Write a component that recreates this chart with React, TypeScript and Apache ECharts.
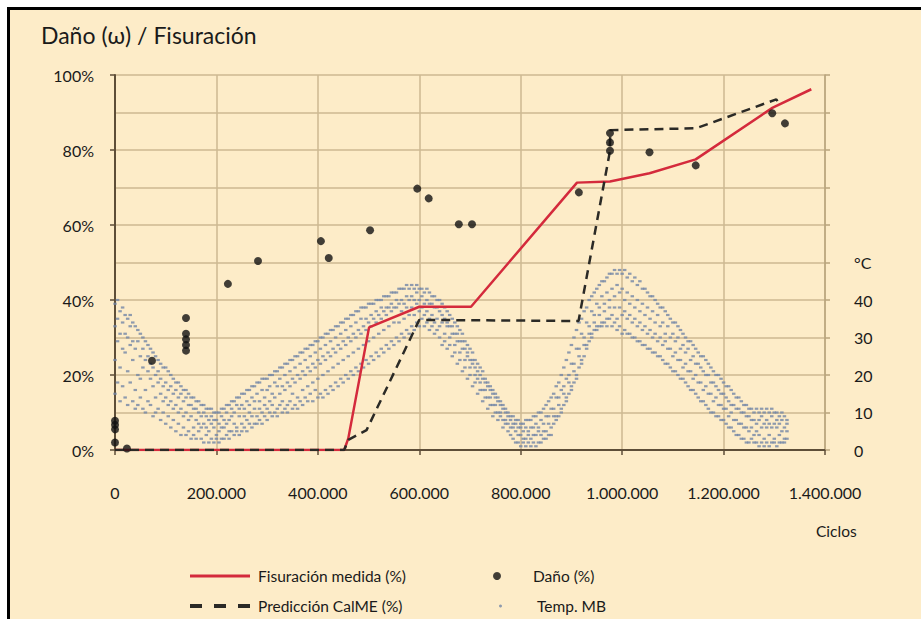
import React, { useEffect, useRef } from "react";
import * as echarts from "echarts";

// Fisuración medida (%) — [ciclos, %]
const fisuracion: number[][] = [
  [0, 0], [452000, 0], [460000, 3.1], [501000, 32.7], [600000, 38.2], [702000, 38.2],
  [911000, 71.3], [976000, 71.6], [1054000, 73.8], [1145000, 77.5], [1297000, 91.3], [1373000, 96.2],
];

// Predicción CalME (%) — [ciclos, %]
const prediccion: number[][] = [
  [0, 0], [452000, 0], [460000, 2.7], [496000, 5.3], [600000, 34.7], [914000, 34.4],
  [975000, 79], [977000, 85.3], [1146000, 85.8], [1304000, 93.5], [1310000, 92.3],
];

// Daño (%) — [ciclos, %]
const dano: number[][] = [
  [0, 7.8], [0, 6.7], [0, 5.5], [0, 2.0], [23600, 0.4], [73000, 23.8],
  [140000, 35.2], [140000, 31], [140000, 29.5], [140000, 28], [140000, 26.5],
  [222600, 44.3], [282000, 50.4], [406000, 55.7], [421500, 51.2], [503000, 58.6],
  [596000, 69.7], [618500, 67.1], [678000, 60.2], [704000, 60.2], [914600, 68.7],
  [976000, 84.5], [976000, 82], [976000, 79.8], [1054000, 79.4], [1145000, 75.9],
  [1296000, 89.8], [1321000, 87.1],
];

// Temp. MB (°C) — rows: [miles de ciclos, t1, t2, t3, t4]
const tempRows: number[][] = [
  [0,39,33,24,15],[5,40,29,35,18],[10,37,22,31,13],[15,38,34,17,27],[20,36,26,14,31],
  [25,35,30,21,12],[30,36,18,28,33],[35,34,24,13,29],[40,33,27,16,11],[45,32,20,29,12],
  [50,31,25,14,19],[55,30,22,11,27],[60,29,16,24,10],[65,28,21,13,25],[70,27,12,19,23],
  [75,26,17,9,22],[80,25,20,14,10],[85,24,11,18,21],[90,23,15,8,19],[95,22,10,17,13],
  [100,22,14,7,18],[105,21,9,16,12],[110,20,13,6,17],[115,19,8,15,11],[120,18,12,5,16],
  [125,18,7,14,10],[130,17,11,4,15],[135,16,6,13,9],[140,16,10,4,14],[145,15,5,12,8],
  [150,14,9,3,12],[155,14,6,11,4],[160,13,8,3,11],[165,13,5,10,7],[170,12,3,9,6],
  [175,12,7,2,10],[180,11,4,9,6],[185,11,8,2,5],[190,11,3,7,9],[195,10,6,2,8],
  [200,10,4,8,3],[205,10,7,2,5],[210,11,3,9,6],[215,11,6,3,8],[220,12,4,10,7],
  [225,12,8,3,5],[230,13,5,11,9],[235,13,10,4,7],[240,14,6,12,5],[245,14,9,4,11],
  [250,15,7,12,5],[255,15,11,6,9],[260,16,8,13,5],[265,16,12,7,10],[270,17,6,14,9],
  [275,17,11,7,13],[280,18,9,15,7],[285,18,13,8,11],[290,19,10,16,7],[295,19,14,9,12],
  [300,19,8,16,11],[305,20,13,10,17],[310,20,9,15,12],[315,21,14,10,18],[320,21,11,17,9],
  [325,22,15,12,19],[330,22,10,17,13],[335,23,16,11,20],[340,23,12,18,10],[345,24,17,13,21],
  [350,24,11,19,15],[355,25,18,12,22],[360,25,14,20,11],[365,26,19,13,23],[370,26,12,21,16],
  [375,27,20,14,24],[380,27,13,22,17],[385,28,21,15,25],[390,28,13,23,18],[395,29,22,16,26],
  [400,29,14,24,19],[405,30,23,15,27],[410,30,14,25,20],[415,31,24,16,28],[420,31,15,26,21],
  [425,32,25,17,29],[430,32,16,27,22],[435,33,26,18,30],[440,33,17,28,23],[445,34,27,19,31],
  [450,34,18,29,24],[455,35,28,20,32],[460,35,19,30,25],[465,36,29,21,33],[470,36,20,31,26],
  [475,37,30,22,34],[480,37,21,32,27],[485,38,31,23,35],[490,38,22,33,28],[495,38,32,24,35],
  [500,39,23,34,29],[505,39,33,25,36],[510,39,24,35,30],[515,40,34,26,37],[520,40,25,36,31],
  [525,40,35,27,38],[530,41,26,37,32],[535,41,36,28,38],[540,41,27,38,33],[545,42,37,29,39],
  [550,42,28,38,34],[555,42,38,30,40],[560,43,29,39,34],[565,43,37,31,40],[570,43,30,39,35],
  [575,44,38,32,41],[580,43,31,40,36],[585,44,38,33,41],[590,43,32,40,36],[595,44,39,34,42],
  [600,43,33,40,37],[605,43,38,35,41],[610,42,33,39,36],[615,43,37,34,40],[620,42,32,39,35],
  [625,41,36,33,39],[630,41,31,38,34],[635,40,35,32,38],[640,40,30,37,33],[645,39,34,28,36],
  [650,38,29,35,31],[655,37,33,27,34],[660,36,28,33,30],[665,35,31,25,33],[670,34,26,31,28],
  [675,33,29,23,31],[680,32,24,29,26],[685,31,27,21,29],[690,29,22,27,24],[695,28,25,19,26],
  [700,27,20,24,22],[705,26,23,17,24],[710,24,18,22,20],[715,23,21,15,19],[720,22,16,20,18],
  [725,21,19,13,16],[730,19,14,18,16],[735,18,17,11,14],[740,17,12,16,14],[745,16,15,9,12],
  [750,15,10,14,12],[755,14,13,8,10],[760,13,9,12,10],[765,12,11,6,8],[770,11,7,10,8],
  [775,10,9,5,7],[780,9,6,8,4],[785,9,7,3,6],[790,8,5,7,2],[795,8,6,2,4],
  [800,7,4,6,1],[805,7,5,2,3],[810,8,3,6,1],[815,8,5,2,4],[820,8,3,6,1],
  [825,9,6,2,4],[830,9,4,7,1],[835,10,6,2,5],[840,10,4,8,2],[845,11,7,3,5],
  [850,12,5,9,3],[855,13,9,4,7],[860,14,6,11,4],[865,15,11,7,9],[870,17,9,14,8],
  [875,18,14,9,12],[880,20,11,16,10],[885,22,17,12,15],[890,24,14,19,13],[895,26,20,15,18],
  [900,28,17,23,16],[905,30,23,18,21],[910,32,20,27,19],[915,34,27,22,25],[920,35,24,31,23],
  [925,37,30,25,28],[930,38,28,34,27],[935,40,33,29,31],[940,41,31,37,30],[945,42,36,32,34],
  [950,43,33,39,32],[955,44,38,33,36],[960,45,34,41,33],[965,45,39,34,37],[970,46,35,42,33],
  [975,47,40,35,38],[980,47,36,43,33],[985,48,41,34,38],[990,47,35,44,32],[995,48,42,33,38],
  [1000,47,36,43,31],[1005,48,40,32,37],[1010,46,35,42,31],[1015,47,39,31,36],[1020,45,34,41,30],
  [1025,46,38,30,35],[1030,44,33,40,29],[1035,45,37,29,34],[1040,43,32,39,28],[1045,43,36,28,33],
  [1050,42,31,38,27],[1055,41,35,27,32],[1060,41,30,37,26],[1065,40,34,26,31],[1070,39,29,36,25],
  [1075,38,33,25,30],[1080,38,28,34,24],[1085,37,31,23,29],[1090,36,27,33,23],[1095,35,30,22,27],
  [1100,34,25,31,21],[1105,34,29,21,26],[1110,33,24,30,20],[1115,32,27,19,24],[1120,31,22,28,19],
  [1125,30,26,18,23],[1130,29,21,27,17],[1135,29,24,16,21],[1140,28,19,25,16],[1145,27,23,15,20],
  [1150,26,18,23,14],[1155,25,22,13,18],[1160,25,16,21,13],[1165,24,20,12,17],[1170,23,15,20,11],
  [1175,22,18,10,15],[1180,21,13,18,10],[1185,20,17,9,14],[1190,20,12,16,9],[1195,19,15,8,12],
  [1200,18,11,15,8],[1205,17,14,7,11],[1210,17,9,13,6],[1215,16,12,6,10],[1220,15,8,12,5],
  [1225,14,11,4,8],[1230,14,7,11,4],[1235,13,10,3,7],[1240,12,6,10,3],[1245,12,9,2,6],
  [1250,11,5,9,2],[1255,11,8,3,6],[1260,10,4,8,2],[1265,11,7,2,5],[1270,10,4,8,1],
  [1275,11,6,2,9],[1280,10,3,7,1],[1285,11,6,2,8],[1290,10,4,7,1],[1295,11,6,2,9],
  [1300,10,3,7,2],[1305,10,6,1,8],[1310,9,4,7,2],[1315,10,5,2,8],[1320,9,3,6,2],
  [1325,8,5,3,7],
];

const FONT = "Lato, 'Liberation Sans', sans-serif";
const GRID_COLOR = "#cdb992";
const AXIS_COLOR = "#5e4e38";
const TEXT = "#1a1a1a";
const RED = "#d42a3c";
const DARK = "#2b2a26";

const fmtThousands = (v: number) => String(v).replace(/\B(?=(\d{3})+(?!\d))/g, ".");

export default function App() {
  const ref = useRef<HTMLDivElement>(null);

  useEffect(() => {
    if (!ref.current) return;
    const chart = echarts.init(ref.current, undefined, { renderer: "svg" });

    const tempPoints: number[][] = [];
    tempRows.forEach((r) => {
      for (let i = 1; i < r.length; i++) tempPoints.push([r[0] * 1000, r[i]]);
    });

    const legendText = { fontFamily: FONT, fontSize: 15.5, color: TEXT };

    chart.setOption({
      animation: false,
      backgroundColor: "transparent",
      textStyle: { fontFamily: FONT },
      title: {
        text: "Daño (ω) / Fisuración",
        left: 36,
        top: 18,
        textStyle: { fontFamily: FONT, fontSize: 23, fontWeight: "normal", color: TEXT },
      },
      grid: { left: 115, right: 96, top: 75, bottom: 169, containLabel: false },
      xAxis: {
        type: "value",
        min: 0,
        max: 1400000,
        interval: 200000,
        axisLine: { show: true, lineStyle: { color: AXIS_COLOR, width: 2 } },
        axisTick: { show: true, length: 5, lineStyle: { color: AXIS_COLOR, width: 1.5 } },
        axisLabel: {
          margin: 34,
          fontSize: 16,
          color: TEXT,
          fontFamily: FONT,
          formatter: (v: number) => fmtThousands(v),
        },
        splitLine: { show: true, lineStyle: { color: GRID_COLOR, width: 1.5 } },
      },
      yAxis: [
        {
          type: "value",
          min: 0,
          max: 100,
          interval: 20,
          axisLine: { show: true, lineStyle: { color: AXIS_COLOR, width: 2 } },
          axisTick: { show: true, length: 5, lineStyle: { color: AXIS_COLOR, width: 1.5 } },
          axisLabel: {
            margin: 21,
            fontSize: 16,
            color: TEXT,
            fontFamily: FONT,
            formatter: (v: number) => v + "%",
          },
          splitLine: { show: true, lineStyle: { color: GRID_COLOR, width: 1.5 } },
          minorTick: { show: false, splitNumber: 2 },
          minorSplitLine: { show: true, lineStyle: { color: GRID_COLOR, width: 1.5 } },
        },
        {
          type: "value",
          position: "right",
          min: 0,
          max: 100,
          interval: 10,
          axisLine: { show: true, lineStyle: { color: "#b8a47c", width: 1.5 } },
          axisTick: { show: true, length: 5, lineStyle: { color: "#b8a47c", width: 1.5 } },
          axisLabel: {
            margin: 29,
            fontSize: 16,
            color: TEXT,
            fontFamily: FONT,
            formatter: (v: number) => (v <= 40 ? String(v) : v === 50 ? "°C" : ""),
          },
          splitLine: { show: false },
        },
      ],
      legend: [
        {
          left: 190,
          top: 568,
          padding: 0,
          itemWidth: 60,
          itemHeight: 3,
          textStyle: { ...legendText, padding: [0, 0, 0, 3] },
          data: [{ name: "Fisuración medida (%)", icon: "rect" }],
        },
        {
          left: 190,
          top: 598,
          padding: 0,
          itemWidth: 60,
          itemHeight: 4,
          textStyle: { ...legendText, padding: [0, 0, 0, 3] },
          data: [
            {
              name: "Predicción CalME (%)",
              icon: "path://M0,0h12v4h-12z M24,0h12v4h-12z M48,0h12v4h-12z",
            },
          ],
        },
        {
          left: 493,
          top: 568,
          padding: 0,
          itemWidth: 8,
          itemHeight: 8,
          textStyle: { ...legendText, padding: [0, 0, 0, 27] },
          data: [{ name: "Daño (%)", icon: "circle" }],
        },
        {
          left: 499,
          top: 598,
          padding: 0,
          itemWidth: 3,
          itemHeight: 3,
          textStyle: { ...legendText, padding: [0, 0, 0, 30] },
          data: [{ name: "Temp. MB", icon: "circle" }],
        },
      ],
      graphic: [
        {
          type: "text",
          left: 816,
          top: 523,
          style: { text: "Ciclos", fontFamily: FONT, fontSize: 15.5, fill: TEXT },
        },
      ],
      series: [
        {
          name: "Temp. MB",
          type: "scatter",
          yAxisIndex: 1,
          symbol: "rect",
          symbolSize: [3.5, 2.2],
          itemStyle: { color: "#7286a6", opacity: 0.8 },
          data: tempPoints,
          z: 1,
        },
        {
          name: "Fisuración medida (%)",
          type: "line",
          data: fisuracion,
          symbol: "none",
          lineStyle: { color: RED, width: 2.5 },
          itemStyle: { color: RED },
          z: 3,
        },
        {
          name: "Predicción CalME (%)",
          type: "line",
          data: prediccion,
          symbol: "none",
          lineStyle: { color: DARK, width: 2.5, type: [9, 6] },
          itemStyle: { color: DARK },
          z: 4,
        },
        {
          name: "Daño (%)",
          type: "scatter",
          data: dano,
          symbol: "circle",
          symbolSize: 8,
          itemStyle: { color: "#111" },
          z: 5,
        },
      ],
    });

    return () => chart.dispose();
  }, []);

  return (
    <div style={{ position: "fixed", left: 0, top: 0, width: 921, height: 619, background: "#fff" }}>
      <div
        style={{
          position: "absolute",
          left: 7,
          top: 7,
          width: 914,
          height: 612,
          boxSizing: "border-box",
          background: "#fdecc8",
          borderTop: "3px solid #000",
          borderLeft: "3px solid #000",
        }}
      />
      <div ref={ref} style={{ position: "absolute", left: 0, top: 0, width: 921, height: 619 }} />
    </div>
  );
}
